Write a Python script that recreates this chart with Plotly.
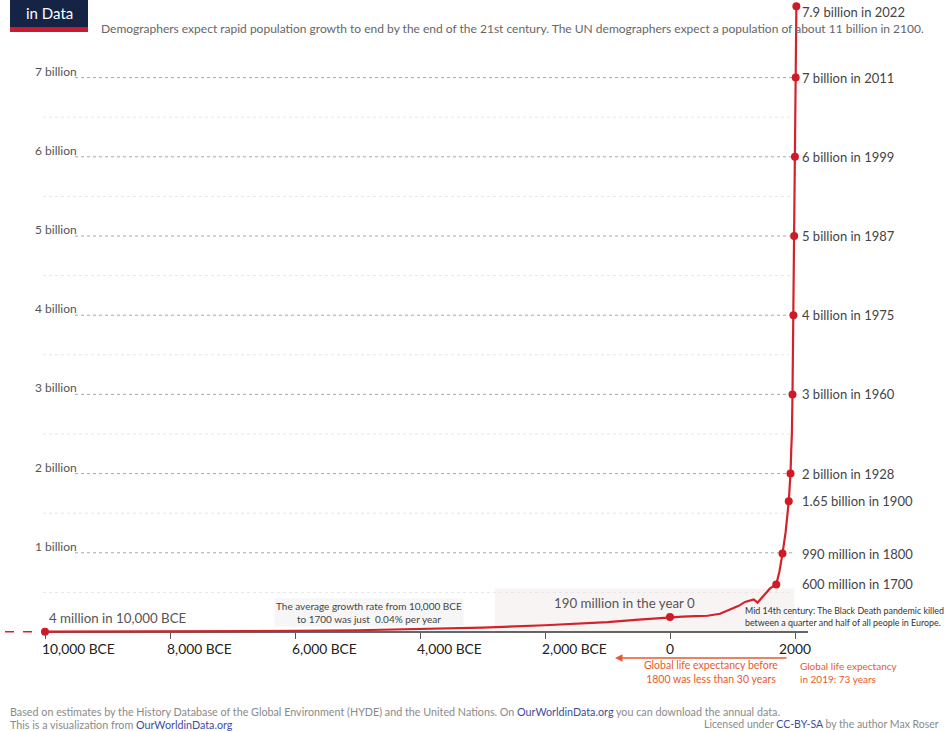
import plotly.graph_objects as go

# ---------------- data ----------------
years = [-10000, -9000, -8000, -7000, -6000, -5000, -4000, -3000, -2000, -1000, -500, 0,
         200, 400, 600, 800, 1000, 1100, 1200, 1300, 1340, 1400, 1500, 1600, 1700, 1750,
         1800, 1850, 1900, 1910, 1920, 1928, 1940, 1950, 1960, 1970, 1975, 1980, 1987,
         1990, 1999, 2005, 2011, 2015, 2020, 2022]
population = [4e6, 5e6, 6e6, 8e6, 13e6, 22e6, 35e6, 55e6, 85e6, 125e6, 155e6, 190e6,
              195e6, 200e6, 205e6, 230e6, 295e6, 330e6, 380e6, 400e6, 410e6, 370e6, 460e6, 550e6, 600e6, 760e6,
              990e6, 1.26e9, 1.65e9, 1.75e9, 1.86e9, 2.0e9, 2.3e9, 2.5e9, 3.0e9, 3.7e9, 4.0e9, 4.4e9, 5.0e9,
              5.3e9, 6.0e9, 6.5e9, 7.0e9, 7.35e9, 7.8e9, 7.9e9]

early_years = [-10640, -10000]
early_population = [2.5e6, 4e6]

milestone_years = [-10000, 0, 1700, 1800, 1900, 1928, 1960, 1975, 1987, 1999, 2011, 2022]
milestone_population = [4e6, 190e6, 600e6, 990e6, 1.65e9, 2e9, 3e9, 4e9, 5e9, 6e9, 7e9, 7.9e9]
milestone_labels = ["4 million in 10,000 BCE", "190 million in the year 0",
                    "600 million in 1700", "990 million in 1800", "1.65 billion in 1900",
                    "2 billion in 1928", "3 billion in 1960", "4 billion in 1975",
                    "5 billion in 1987", "6 billion in 1999", "7 billion in 2011",
                    "7.9 billion in 2022"]

grid_values = [1e9, 2e9, 3e9, 4e9, 5e9, 6e9, 7e9]
grid_labels = ["1 billion", "2 billion", "3 billion", "4 billion", "5 billion", "6 billion", "7 billion"]
half_grid_values = [0.5e9, 1.5e9, 2.5e9, 3.5e9, 4.5e9, 5.5e9, 6.5e9]

tick_years = [-10000, -8000, -6000, -4000, -2000, 0, 2000]
tick_labels = ["10,000 BCE", "8,000 BCE", "6,000 BCE", "4,000 BCE", "2,000 BCE", "0", "2000"]

# ---------------- figure ----------------
W, H = 947, 731
RED = "#d3222b"
ORANGE = "#e65a2c"
FONT = "Lato"

def px_to_year(px):
    return (px - 670) * 16

def py_to_val(py):
    return (632 - py) / 79.2 * 1e9

def pxp(px):
    return px / W

def pyp(py):
    return 1 - py / H

fig = go.Figure()

fig.add_trace(go.Scatter(x=early_years, y=early_population, mode="lines",
                         line=dict(color=RED, width=1.6, dash="dash"),
                         hoverinfo="skip", showlegend=False))
fig.add_trace(go.Scatter(x=years, y=population, mode="lines",
                         line=dict(color=RED, width=2.2),
                         showlegend=False, name="World population"))
fig.add_trace(go.Scatter(x=milestone_years, y=milestone_population, mode="markers",
                         marker=dict(color="#cf1b26", size=8),
                         cliponaxis=False, showlegend=False))

shapes = []
# light shaded area
shapes.append(dict(type="rect", xref="x", yref="y", x0=-2800, x1=1990, y0=0, y1=0.55e9,
                   fillcolor="#f8f4f4", line=dict(width=0), layer="below"))
# half-billion faint gridlines
for v in half_grid_values:
    shapes.append(dict(type="line", xref="x", yref="y", x0=px_to_year(43), x1=px_to_year(790),
                       y0=v, y1=v, line=dict(color="#e6e6e6", width=1, dash="dot"), layer="below"))
# main dotted gridlines
for v in grid_values:
    shapes.append(dict(type="line", xref="x", yref="y", x0=px_to_year(75), x1=px_to_year(792),
                       y0=v, y1=v, line=dict(color="#a8a8a8", width=1, dash="dot"), layer="below"))
# x axis line
shapes.append(dict(type="line", xref="x", yref="y", x0=-10000, x1=px_to_year(808), y0=0, y1=0,
                   line=dict(color="#333333", width=1.3), layer="below"))
# logo
shapes.append(dict(type="rect", xref="paper", yref="paper", x0=pxp(10), x1=pxp(88),
                   y0=pyp(27), y1=pyp(-2), fillcolor="#152345", line=dict(width=0)))
shapes.append(dict(type="rect", xref="paper", yref="paper", x0=pxp(10), x1=pxp(88),
                   y0=pyp(32), y1=pyp(27), fillcolor="#cc1a30", line=dict(width=0)))

ann = []
# gridline labels
for v, t in zip(grid_values, grid_labels):
    ann.append(dict(x=px_to_year(33), y=v, xref="x", yref="y", text=t, showarrow=False,
                    xanchor="left", yanchor="bottom", yshift=-3,
                    font=dict(family=FONT, size=12, color="#555555")))
# milestone labels
for yr, pop, lab in zip(milestone_years, milestone_population, milestone_labels):
    if yr == -10000:
        ann.append(dict(x=px_to_year(47), y=py_to_val(618), xref="x", yref="y", text=lab,
                        showarrow=False, xanchor="left", yanchor="middle",
                        font=dict(family=FONT, size=13.3, color="#555555")))
    elif yr == 0:
        ann.append(dict(x=px_to_year(624), y=py_to_val(603), xref="x", yref="y", text=lab,
                        showarrow=False, xanchor="center", yanchor="middle",
                        font=dict(family=FONT, size=13.3, color="#555555")))
    elif yr == 2022:
        ann.append(dict(x=px_to_year(800), y=pop, xref="x", yref="y", text=lab,
                        showarrow=False, xanchor="left", yanchor="middle", yshift=-6,
                        font=dict(family=FONT, size=13, color="#444444")))
    else:
        ann.append(dict(x=px_to_year(800), y=pop, xref="x", yref="y", text=lab,
                        showarrow=False, xanchor="left", yanchor="middle",
                        font=dict(family=FONT, size=13, color="#444444")))
# tick labels
for yr, lab in zip(tick_years, tick_labels):
    anchor = "left" if "BCE" in lab else "center"
    xpos = yr - 75 if "BCE" in lab else yr
    ann.append(dict(x=xpos, y=py_to_val(648), xref="x", yref="y", text=lab,
                    showarrow=False, xanchor=anchor, yanchor="middle",
                    font=dict(family=FONT, size=13.8, color="#222222")))

ann.append(dict(x=px_to_year(369), y=py_to_val(612), xref="x", yref="y",
                text="The average growth rate from 10,000 BCE<br>to 1700 was just  0.04% per year",
                showarrow=False, xanchor="center", yanchor="middle", align="center",
                bgcolor="rgba(238,238,238,0.5)",
                font=dict(family=FONT, size=10, color="#444444")))
ann.append(dict(x=px_to_year(743), y=py_to_val(616), xref="x", yref="y",
                text="Mid 14th century: The Black Death pandemic killed<br>between a quarter and half of all people in Europe.",
                showarrow=False, xanchor="left", yanchor="middle", align="left",
                font=dict(family=FONT, size=8.9, color="#333333")))
# life expectancy arrow and notes
ann.append(dict(x=px_to_year(615), y=py_to_val(658), ax=px_to_year(788), ay=py_to_val(658),
                xref="x", yref="y", axref="x", ayref="y", text="", showarrow=True,
                arrowhead=2, arrowsize=1, arrowwidth=1.5, arrowcolor=ORANGE))
ann.append(dict(x=px_to_year(711), y=py_to_val(672), xref="x", yref="y",
                text="Global life expectancy before<br>1800 was less than 30 years",
                showarrow=False, xanchor="center", yanchor="middle", align="center",
                font=dict(family=FONT, size=10.5, color=ORANGE)))
ann.append(dict(x=px_to_year(798), y=py_to_val(672), xref="x", yref="y",
                text="Global life expectancy<br>in 2019: 73 years",
                showarrow=False, xanchor="left", yanchor="middle", align="left",
                font=dict(family=FONT, size=10, color=ORANGE)))
# header
ann.append(dict(x=pxp(49), y=pyp(13), xref="paper", yref="paper", text="in Data",
                showarrow=False, xanchor="center", yanchor="middle",
                font=dict(family=FONT, size=15, color="white")))
ann.append(dict(x=pxp(99), y=pyp(28), xref="paper", yref="paper",
                text="Demographers expect rapid population growth to end by the end of the 21st century. The UN demographers expect a population of about 11 billion in 2100.",
                showarrow=False, xanchor="left", yanchor="middle",
                font=dict(family=FONT, size=12, color="#666666")))
# footer
LINK = "#3d4da0"
ann.append(dict(x=pxp(8), y=pyp(711), xref="paper", yref="paper",
                text="Based on estimates by the History Database of the Global Environment (HYDE) and the United Nations. On "
                     f"<span style='color:{LINK}'>OurWorldinData.org</span> you can download the annual data.",
                showarrow=False, xanchor="left", yanchor="middle",
                font=dict(family=FONT, size=10.75, color="#8a8a8a")))
ann.append(dict(x=pxp(8), y=pyp(724), xref="paper", yref="paper",
                text=f"This is a visualization from <span style='color:{LINK}'>OurWorldinData.org</span>",
                showarrow=False, xanchor="left", yanchor="middle",
                font=dict(family=FONT, size=10.75, color="#8a8a8a")))
ann.append(dict(x=pxp(941), y=pyp(724), xref="paper", yref="paper",
                text=f"Licensed under <span style='color:{LINK}'>CC-BY-SA</span> by the author Max Roser",
                showarrow=False, xanchor="right", yanchor="middle",
                font=dict(family=FONT, size=10.5, color="#8a8a8a")))

fig.update_layout(
    width=W, height=H,
    margin=dict(l=0, r=0, t=0, b=0),
    paper_bgcolor="white", plot_bgcolor="white",
    shapes=shapes, annotations=ann,
    font=dict(family=FONT),
    xaxis=dict(range=[px_to_year(0), px_to_year(W)], showgrid=False, zeroline=False,
               showline=False, tickvals=tick_years, ticks="outside", ticklen=6,
               tickcolor="#555555", tickwidth=1, showticklabels=False,
               anchor="free", position=(H - 632) / H, fixedrange=True),
    yaxis=dict(range=[py_to_val(H), py_to_val(0)], showgrid=False, zeroline=False,
               showline=False, showticklabels=False, ticks="", fixedrange=True),
)

fig.write_html("out.html")
